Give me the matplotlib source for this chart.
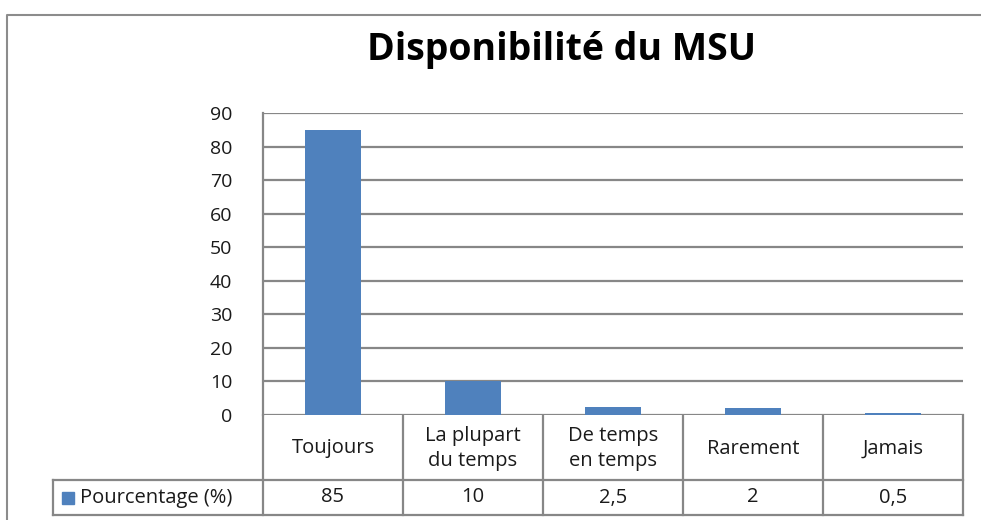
import matplotlib.pyplot as plt
from matplotlib.patches import Rectangle

categories = ['Toujours', 'La plupart\ndu temps', 'De temps\nen temps', 'Rarement', 'Jamais']
values = [85, 10, 2.5, 2, 0.5]
value_labels = ['85', '10', '2,5', '2', '0,5']
series_name = 'Pourcentage (%)'
yticks = list(range(0, 100, 10))

blue = '#4F81BD'
grid = '#878787'
txt = '#1a1a1a'
W, H = 981, 520
plt.rcParams['font.family'] = ['Open Sans', 'DejaVu Sans']

fig = plt.figure(figsize=(W / 100, H / 100), dpi=100)

def fx(px):
    return px / W

def fy(py):
    return 1 - py / H

# chart frame
frame = fig.add_axes([0, 0, 1, 1])
frame.set_xlim(0, W)
frame.set_ylim(H, 0)
frame.axis('off')
frame.plot([7, 7, W], [H, 15, 15], color='#8c8c8c', lw=1.5)

# plot area
x0, x1, ytop, ybase = 263, 963, 113, 415
ax = fig.add_axes([fx(x0), fy(ybase), fx(x1) - fx(x0), fy(ytop) - fy(ybase)])
n = len(categories)
ax.bar(range(n), values, width=0.4, color=blue, zorder=3)
ax.set_xlim(-0.5, n - 0.5)
ax.set_ylim(0, 90)
ax.set_yticks(yticks)
ax.yaxis.grid(True, color=grid, lw=1.6)
ax.set_xticks([])
ax.tick_params(axis='y', length=0, pad=22, labelsize=14, labelcolor=txt)
for lab in ax.get_yticklabels():
    lab.set_fontweight(500)
for s in ['top', 'right', 'bottom']:
    ax.spines[s].set_visible(False)
ax.spines['left'].set_color(grid)
ax.spines['left'].set_linewidth(1.6)

fig.text(fx(562), fy(50), 'Disponibilité du MSU', ha='center', va='center',
         fontsize=27, fontweight='bold', color='black')

# data table below
row1, row2 = 480, 515
lx = 53
colw = (x1 - x0) / n
lc = dict(color=grid, lw=1.6)
fs = 14.5
frame.plot([x0, x0], [ybase, row2], **lc)
frame.plot([lx, x1], [row1, row1], **lc)
frame.plot([lx, x1], [row2, row2], **lc)
frame.plot([lx, lx], [row1, row2], **lc)
for i in range(n):
    xr = x0 + colw * (i + 1)
    frame.plot([xr, xr], [ybase, row2], **lc)
    xc = x0 + colw * (i + 0.5)
    frame.text(xc, (ybase + row1) / 2 + 1, categories[i], ha='center', va='center',
               fontsize=fs, fontweight=500, linespacing=1.35, color=txt)
    frame.text(xc, (row1 + row2) / 2, value_labels[i], ha='center', va='center',
               fontsize=fs, fontweight=500, color=txt)

frame.add_patch(Rectangle((62, 492), 12, 12, color=blue))
frame.text(80, (row1 + row2) / 2, series_name, ha='left', va='center', fontsize=fs,
           fontweight=500, color=txt)

fig.savefig('out.png', dpi=100)
